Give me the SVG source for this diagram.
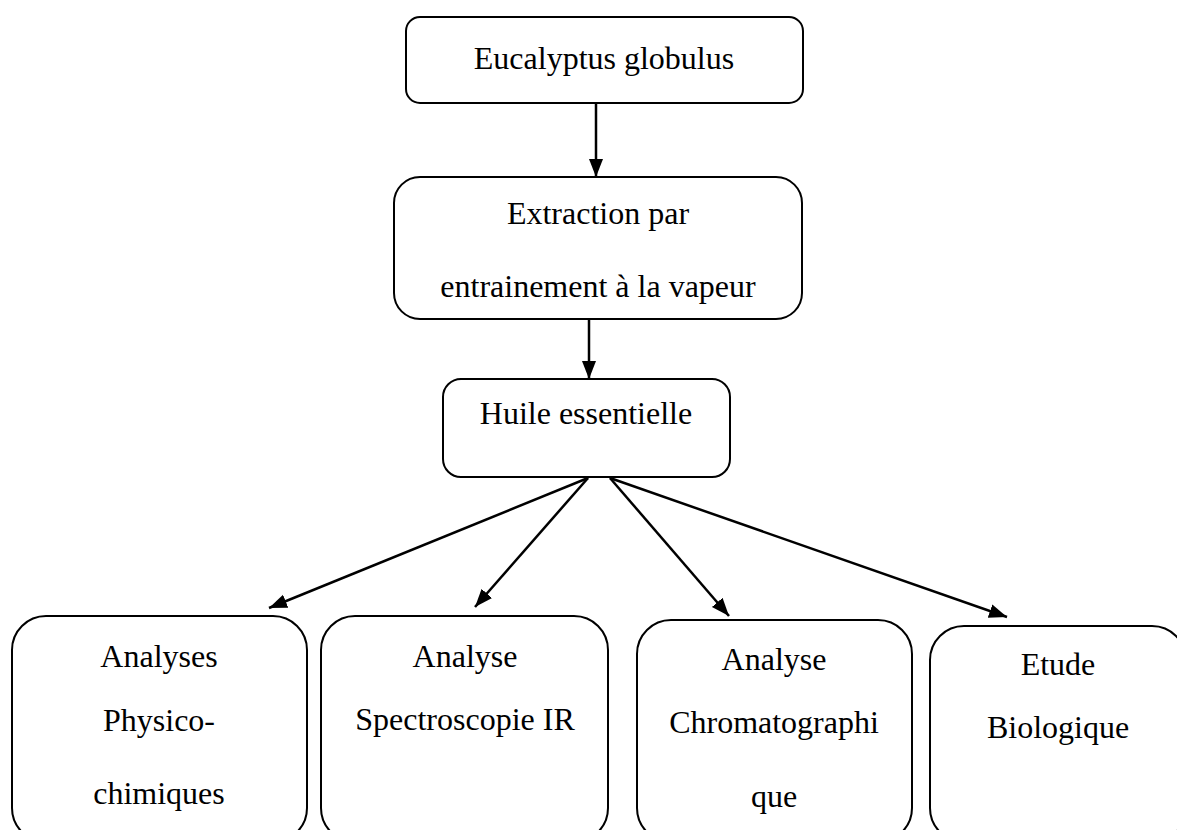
<svg xmlns="http://www.w3.org/2000/svg" width="1177" height="830" viewBox="0 0 1177 830">
<style>
.box{fill:#fff;stroke:#000;stroke-width:2}
.t{font-family:"Liberation Serif","Times New Roman",serif;font-size:32px;fill:#000;text-anchor:middle}
.c{stroke:#000;stroke-width:2.5;fill:none}
</style>
<defs>
<marker id="ah" markerUnits="userSpaceOnUse" markerWidth="20" markerHeight="16" refX="18" refY="8" orient="auto">
<path d="M0,1 L18,8 L0,15 Z" fill="#000"/>
</marker>
</defs>
<rect width="1177" height="830" fill="#fff"/>
<g id="connectors">
<line class="c" x1="596" y1="103" x2="596" y2="177" marker-end="url(#ah)"/>
<line class="c" x1="589" y1="319" x2="589" y2="379" marker-end="url(#ah)"/>
<line class="c" x1="588" y1="478" x2="269" y2="608" marker-end="url(#ah)"/>
<line class="c" x1="588" y1="478" x2="475" y2="607" marker-end="url(#ah)"/>
<line class="c" x1="610" y1="478" x2="729" y2="616" marker-end="url(#ah)"/>
<line class="c" x1="610" y1="478" x2="1007" y2="617" marker-end="url(#ah)"/>
</g>
<g id="n1">
<rect class="box" x="406" y="17" width="397" height="86" rx="14"/>
<text class="t" x="604" y="69">Eucalyptus globulus</text>
</g>
<g id="n2">
<rect class="box" x="394" y="177" width="408" height="142" rx="26"/>
<text class="t" x="598" y="224">Extraction par</text>
<text class="t" x="598" y="297">entrainement à la vapeur</text>
</g>
<g id="n3">
<rect class="box" x="443" y="379" width="287" height="98" rx="18"/>
<text class="t" x="586" y="424">Huile essentielle</text>
</g>
<g id="n4">
<rect class="box" x="12" y="616" width="295" height="226" rx="34"/>
<text class="t" x="159" y="667">Analyses</text>
<text class="t" x="159" y="731">Physico-</text>
<text class="t" x="159" y="804">chimiques</text>
</g>
<g id="n5">
<rect class="box" x="321" y="616" width="287" height="226" rx="34"/>
<text class="t" x="465" y="667">Analyse</text>
<text class="t" x="465" y="730">Spectroscopie IR</text>
</g>
<g id="n6">
<rect class="box" x="637" y="620" width="275" height="222" rx="34"/>
<text class="t" x="774" y="670">Analyse</text>
<text class="t" x="774" y="733">Chromatographi</text>
<text class="t" x="774" y="807">que</text>
</g>
<g id="n7">
<rect class="box" x="930" y="626" width="256" height="216" rx="34"/>
<text class="t" x="1058" y="675">Etude</text>
<text class="t" x="1058" y="738">Biologique</text>
</g>
</svg>
